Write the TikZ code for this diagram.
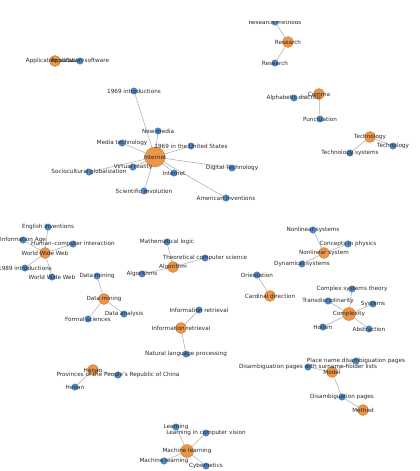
\documentclass[tikz,border=0pt]{standalone}
\usepackage{fontspec}
\setmainfont{DejaVu Sans}
\definecolor{hubfill}{RGB}{235, 150, 72}
\definecolor{hubdraw}{RGB}{205, 122, 50}
\definecolor{leaffill}{RGB}{78, 138, 202}
\definecolor{leafdraw}{RGB}{52, 102, 160}
\definecolor{linkgray}{RGB}{170, 170, 170}
\definecolor{labelgray}{RGB}{40, 40, 40}
\usepackage{tikz}
\usetikzlibrary{positioning}
\pgfdeclarelayer{background}
\pgfsetlayers{background,main}
\tikzset{
  hub/.style={circle, draw=hubdraw, fill=hubfill, line width=0.4pt, inner sep=0pt, minimum size=11pt},
  bighub/.style={hub, minimum size=13pt},
  leaf/.style={circle, draw=leafdraw, fill=leaffill, line width=0.3pt, inner sep=0pt, minimum size=6.5pt},
  tag/.style={font=\fontsize{5.7}{6}\selectfont, text=labelgray, inner sep=0pt},
  link/.style={draw=linkgray, line width=0.5pt}
}

\begin{document}
\begin{tikzpicture}[x=1pt, y=-1pt]
  \useasboundingbox (0,0) rectangle (420,471);
  \clip (0,21) rectangle (420,471);

  % hubs
  \foreach \n/\x/\y/\t in {appsw/55/61/Application software, research/288/42/Research,
      comma/319/94/Comma, tech/370/137/Technology, www/45/253/World Wide Web,
      algo/173/267/Algorithm, dmine/104/299/Data mining, inforet/181/328/Information retrieval,
      cardinal/270/296/Cardinal direction, nlsys/324/253/Nonlinear system,
      model/332/372/Model, method/363/410/Method, henan/93/370/Henan}
    \node[hub, label={[tag]center:\t}] (\n) at (\x,\y) {};
  \node[bighub, label={[tag]center:Complexity}] (complex) at (349,314) {};
  \node[bighub, label={[tag]center:Machine learning}] (mlearn) at (187,451) {};
  \node[hub, minimum size=20pt, label={[tag]center:Internet}] (internet) at (155,157) {};

  % leaves
  \foreach \n/\x/\y/\t in {appsw2/80/61/Application software, resmeth/275/22/Research methods,
      research2/275/63/Research, alphadia/294/98/Alphabetic diacritic, punct/320/119/Punctuation,
      tech2/393/146/Technology, techsys/350/153/Technology systems,
      intro69/134/91/1969 introductions, newmedia/158/131/New media,
      mediatech/122/143/Media technology, us69/191/146/1969 in the United States,
      vr/133/167/Virtual reality, socio/89/172/Sociocultural globalization,
      internet2/174/173/Internet, scirev/144/191/Scientific revolution,
      digtech/232/168/Digital Technology, ameriinv/226/198/American inventions,
      enginv/48/227/English inventions, infoage/23/240/Information Age,
      hci/73/244/Human--computer interaction, intro89/25/268/1989 introductions,
      www2/52/277/World Wide Web, dmine2/97/276/Data mining, danalysis/124/314/Data analysis,
      formsci/88/319/Formal sciences, mathlogic/167/242/Mathematical logic,
      tcs/205/258/Theoretical computer science, algos/142/274/Algorithms,
      inforet2/199/310/Information retrieval, nlp/186/354/Natural language processing,
      orient/257/275/Orientation, nlsystems/313/230/Nonlinear systems,
      conphys/348/244/Concepts in physics, dynsys/302/264/Dynamical systems,
      cstheory/352/289/Complex systems theory, transdis/328/301/Transdisciplinarity,
      systems/373/304/Systems, holism/323/327/Holism, abstr/369/329/Abstraction,
      placename/356/361/Place name disambiguation pages,
      surname/308/367/Disambiguation pages with surname-holder lists,
      disamb/342/397/Disambiguation pages,
      provinces/118/375/Provinces of the People's Republic of China, henan2/75/387/Henan,
      learning/176/427/Learning, lcv/206/433/Learning in computer vision,
      mlearn2/164/461/Machine learning, cyber/206/466/Cybernetics}
    \node[leaf, label={[tag]center:\t}] (\n) at (\x,\y) {};

  % links
  \begin{pgfonlayer}{background}
    \foreach \a/\b in {appsw/appsw2, research/resmeth, research/research2, comma/alphadia,
        comma/punct, tech/tech2, tech/techsys, internet/intro69, internet/newmedia,
        internet/mediatech, internet/us69, internet/vr, internet/socio, internet/internet2,
        internet/scirev, internet/digtech, internet/ameriinv, www/enginv, www/infoage,
        www/hci, www/intro89, www/www2, dmine/dmine2, dmine/danalysis, dmine/formsci,
        algo/mathlogic, algo/tcs, algo/algos, inforet/inforet2, inforet/nlp,
        cardinal/orient, nlsys/nlsystems, nlsys/conphys, nlsys/dynsys,
        complex/cstheory, complex/transdis, complex/systems, complex/holism, complex/abstr,
        model/placename, model/surname, model/disamb, method/disamb,
        henan/provinces, henan/henan2, mlearn/learning, mlearn/lcv, mlearn/mlearn2,
        mlearn/cyber}
      \draw[link] (\a) -- (\b);
  \end{pgfonlayer}
\end{tikzpicture}
\end{document}
